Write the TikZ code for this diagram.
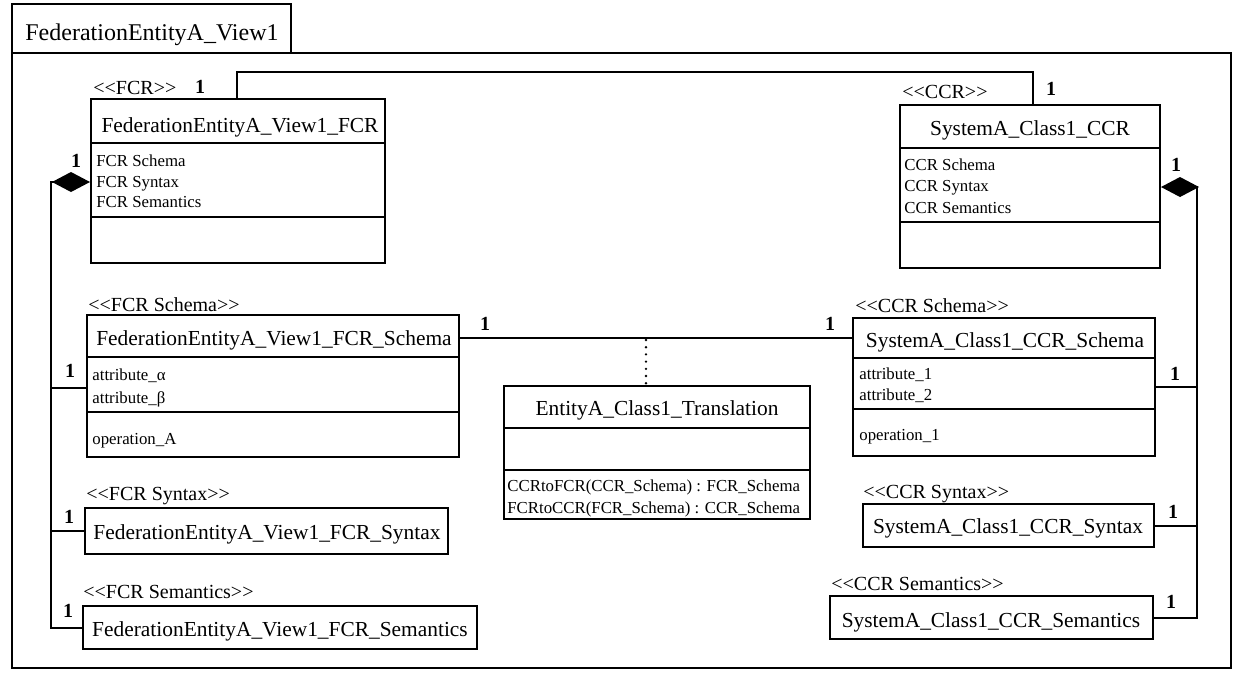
\documentclass[tikz,border=0pt]{standalone}
\usepackage{fontspec}
\setmainfont{Liberation Serif}
\usetikzlibrary{fit,arrows.meta}
% guillemet-free stereotype brackets (a kern stops the << ligature)
\newcommand\stOpen{<\kern0pt<}
\newcommand\stClose{>\kern0pt>}
\begin{document}
\begin{tikzpicture}[x=0.5pt,y=-0.5pt,
  umlbox/.style={draw, line width=1pt, inner sep=0pt, fit={#1}},
  conn/.style={line width=1.3pt},
  title/.style={font=\fontsize{10.7}{12}\selectfont, anchor=base, inner sep=0pt},
  member/.style={font=\fontsize{8.4}{10}\selectfont, anchor=base west, inner sep=0pt},
  stereo/.style={font=\fontsize{10}{12}\selectfont, anchor=base west, inner sep=0pt},
  mult/.style={font=\fontsize{10}{12}\selectfont\bfseries, anchor=base, inner sep=0pt},
  comp/.style={line width=1pt},
  compose/.style={{Diamond[length=19pt,width=10pt]}-}]
\useasboundingbox (0,0) rectangle (1237,676);

% package frame with its name tab
\node[umlbox={(12,53)(1231,668)}] (pkg) {};
\node[umlbox={(12,4)(291,53)}] (tab) {};
\node[anchor=base west, inner sep=0pt, font=\fontsize{12}{14}\selectfont] (tabT) at (25,40) {FederationEntityA\_View1};

% FCR class
\node[umlbox={(91,99)(385,263)}] (fcr) {};
\draw[comp] (fcr.west |- 0,143) -- (fcr.east |- 0,143);
\draw[comp] (fcr.west |- 0,217) -- (fcr.east |- 0,217);
\node[stereo] (fcrS) at (93,94) {\stOpen FCR\stClose};
\node[title] (fcrT) at (240,132) {FederationEntityA\_View1\_FCR};
\node[member] (fcrM1) at (96,166) {FCR Schema};
\node[member] (fcrM2) at (96,187) {FCR Syntax};
\node[member] (fcrM3) at (96,207) {FCR Semantics};

% CCR class
\node[umlbox={(900,105)(1160,268)}] (ccr) {};
\draw[comp] (ccr.west |- 0,148) -- (ccr.east |- 0,148);
\draw[comp] (ccr.west |- 0,222) -- (ccr.east |- 0,222);
\node[stereo] (ccrS) at (902,98) {\stOpen CCR\stClose};
\node[title] (ccrT) at (1030,135) {SystemA\_Class1\_CCR};
\node[member] (ccrM1) at (904,170) {CCR Schema};
\node[member] (ccrM2) at (904,191) {CCR Syntax};
\node[member] (ccrM3) at (904,213) {CCR Semantics};

% FCR parts
\node[umlbox={(87,315)(459,457)}] (fsch) {};
\draw[comp] (fsch.west |- 0,357) -- (fsch.east |- 0,357);
\draw[comp] (fsch.west |- 0,412) -- (fsch.east |- 0,412);
\node[stereo] (fschS) at (88,311) {\stOpen FCR Schema\stClose};
\node[title] (fschT) at (274,345) {FederationEntityA\_View1\_FCR\_Schema};
\node[member] (fschA1) at (92,380) {attribute\_α};
\node[member] (fschA2) at (92,403) {attribute\_β};
\node[member] (fschO1) at (92,444) {operation\_A};

\node[umlbox={(85,508)(448,554)}] (fsyn) {};
\node[stereo] (fsynS) at (86,500) {\stOpen FCR Syntax\stClose};
\node[title] (fsynT) at (267,539) {FederationEntityA\_View1\_FCR\_Syntax};

\node[umlbox={(83,606)(477,649)}] (fsem) {};
\node[stereo] (fsemS) at (83,598) {\stOpen FCR Semantics\stClose};
\node[title] (fsemT) at (280,636) {FederationEntityA\_View1\_FCR\_Semantics};

% CCR parts
\node[umlbox={(853,318)(1155,456)}] (csch) {};
\draw[comp] (csch.west |- 0,358) -- (csch.east |- 0,358);
\draw[comp] (csch.west |- 0,409) -- (csch.east |- 0,409);
\node[stereo] (cschS) at (855,312) {\stOpen CCR Schema\stClose};
\node[title] (cschT) at (1005,347) {SystemA\_Class1\_CCR\_Schema};
\node[member] (cschA1) at (859,379) {attribute\_1};
\node[member] (cschA2) at (859,400) {attribute\_2};
\node[member] (cschO1) at (859,440) {operation\_1};

\node[umlbox={(863,504)(1154,547)}] (csyn) {};
\node[stereo] (csynS) at (863,498) {\stOpen CCR Syntax\stClose};
\node[title] (csynT) at (1008,533) {SystemA\_Class1\_CCR\_Syntax};

\node[umlbox={(830,596)(1153,639)}] (csem) {};
\node[stereo] (csemS) at (831,590) {\stOpen CCR Semantics\stClose};
\node[title] (csemT) at (991,627) {SystemA\_Class1\_CCR\_Semantics};

% association class
\node[umlbox={(504,386)(810,519)}] (trn) {};
\draw[comp] (trn.west |- 0,428) -- (trn.east |- 0,428);
\draw[comp] (trn.west |- 0,470) -- (trn.east |- 0,470);
\node[title] (trnT) at (657,415) {EntityA\_Class1\_Translation};
\node[member] (trnO1) at (507,491) {CCRtoFCR(CCR\_Schema) : FCR\_Schema};
\node[member] (trnO2) at (507,513) {FCRtoCCR(FCR\_Schema) : CCR\_Schema};

% FCR -- CCR association over the top
\coordinate (topL) at (237,72);
\coordinate (topR) at (1033,72);
\draw[conn] (fcr.north -| topL) -- (topL) -- (topR) -- (ccr.north -| topR);
\node[mult] (mTopL) at (200,93) {1};
\node[mult] (mTopR) at (1051,95) {1};

% FCR composition
\coordinate (lbus) at (51,628);
\draw[conn, compose] (fcr.west |- 0,182) -- (lbus |- 0,182) -- (lbus) -- (fsem.west |- lbus);
\draw[conn] (lbus |- 0,388) -- (fsch.west |- 0,388);
\draw[conn] (lbus |- 0,531) -- (fsyn.west |- 0,531);
\node[mult] (mFcr) at (76,167) {1};
\node[mult] (mFsch) at (70,377) {1};
\node[mult] (mFsyn) at (69,523) {1};
\node[mult] (mFsem) at (68,617) {1};

% CCR composition
\coordinate (rbus) at (1197,618);
\draw[conn, compose] (ccr.east |- 0,187) -- (rbus |- 0,187) -- (rbus) -- (csem.east |- rbus);
\draw[conn] (rbus |- 0,387) -- (csch.east |- 0,387);
\draw[conn] (rbus |- 0,526) -- (csyn.east |- 0,526);
\node[mult] (mCcr) at (1176,171) {1};
\node[mult] (mCsch) at (1175,380) {1};
\node[mult] (mCsyn) at (1173,518) {1};
\node[mult] (mCsem) at (1171,608) {1};

% schema association with its translation class
\draw[conn] (fsch.east |- 0,338) -- (csch.west |- 0,338);
\coordinate (assocMid) at (646,340);
\draw[line width=1.3pt, dash pattern=on 0pt off 3.6pt, line cap=round] (assocMid) -- (trn.north -| assocMid);
\node[mult] (mAsL) at (485,330) {1};
\node[mult] (mAsR) at (830,330) {1};
\end{tikzpicture}
\end{document}
